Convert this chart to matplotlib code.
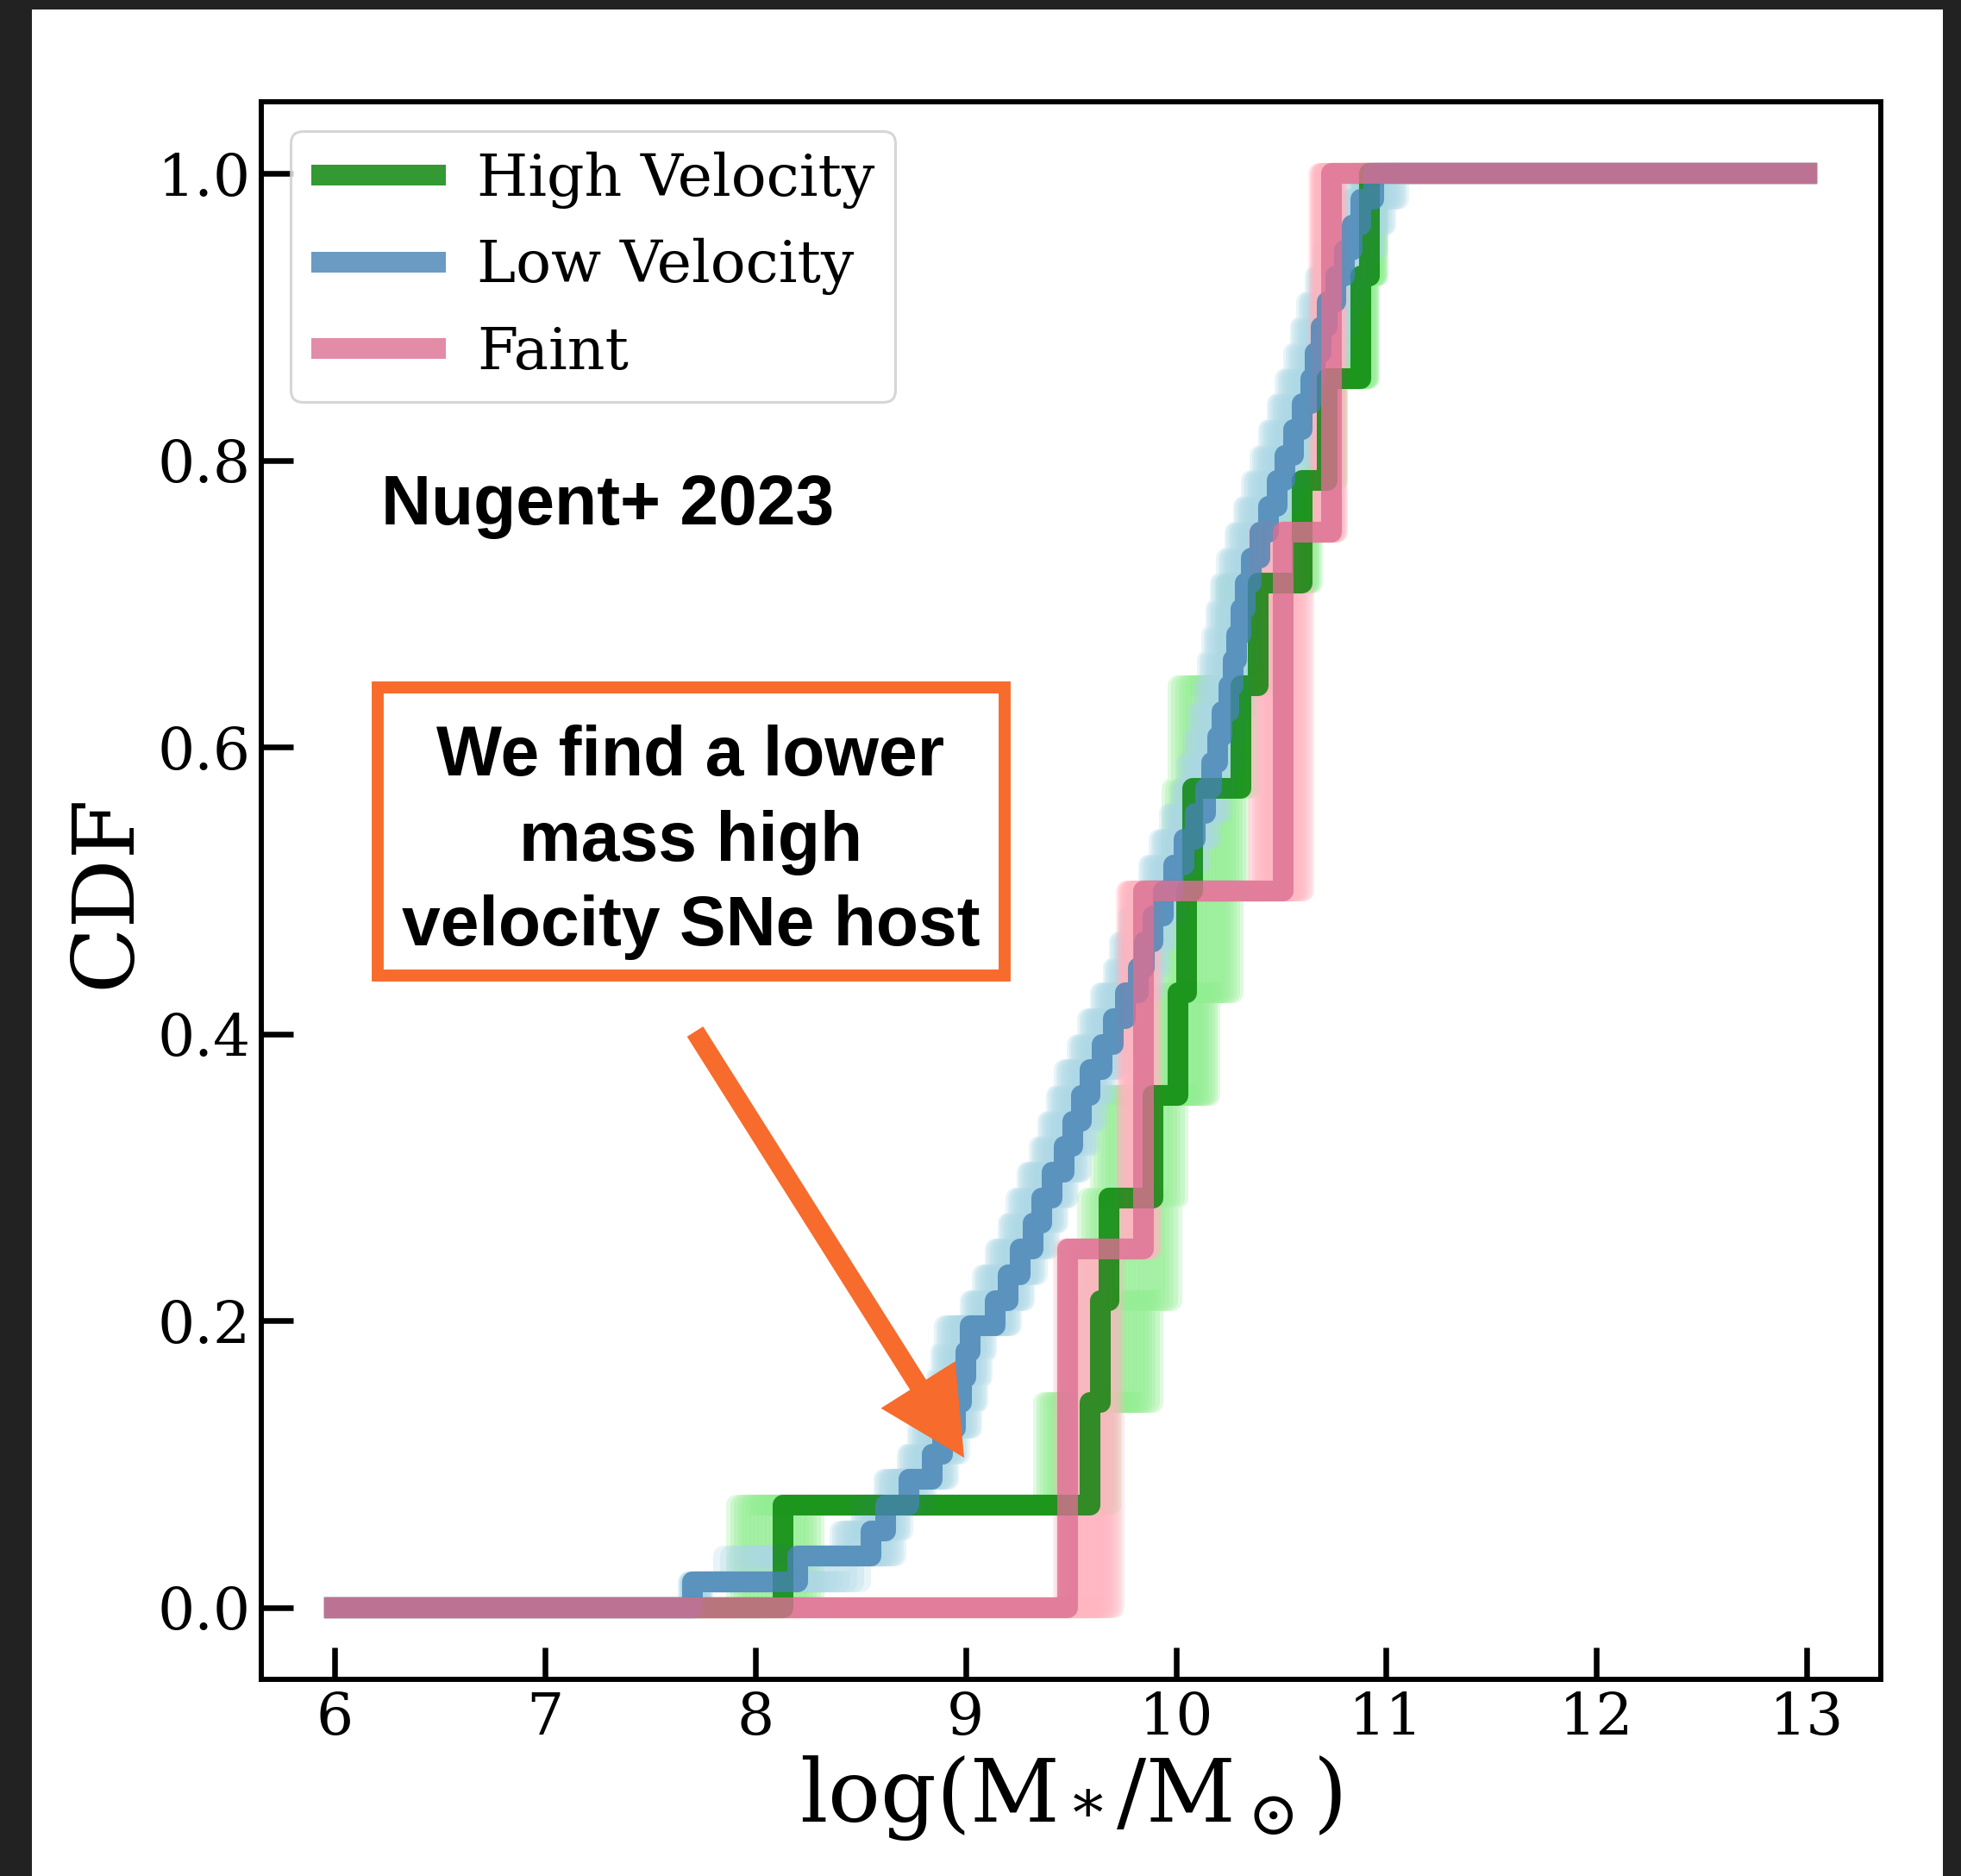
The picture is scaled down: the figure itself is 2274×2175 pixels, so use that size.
import numpy as np
import matplotlib
matplotlib.use('Agg')
from matplotlib import pyplot as plt
from matplotlib import transforms
from matplotlib.patches import Rectangle, FancyArrow

W, H, DPI = 2274, 2175, 100
X_START, X_END = 6.0, 13.0

# host stellar masses, log(M*/Msun), one entry per supernova
high_mass = [8.13, 9.59, 9.64, 9.68, 9.89, 10.01, 10.05, 10.08, 10.31, 10.39,
             10.60, 10.72, 10.88, 10.92]
high_lo = [-0.22, -0.22, -0.10, -0.10, -0.25, -0.10, -0.10, -0.10, -0.30, -0.15,
           -0.10, -0.08, -0.05, -0.04]
high_hi = [0.15, 0.10, 0.25, 0.30, 0.12, 0.15, 0.22, 0.22, 0.05, 0.08,
           0.05, 0.05, 0.04, 0.04]

low_mass = [7.70, 8.20, 8.55, 8.62, 8.73, 8.84, 8.89, 8.95, 8.98, 9.00,
            9.02, 9.14, 9.20, 9.26, 9.32, 9.36, 9.41, 9.47, 9.51, 9.55,
            9.59, 9.65, 9.70, 9.76, 9.82, 9.85, 9.89, 9.94, 9.99, 10.04,
            10.09, 10.14, 10.17, 10.20, 10.22, 10.25, 10.27, 10.29, 10.31, 10.33,
            10.36, 10.40, 10.44, 10.48, 10.52, 10.56, 10.60, 10.64, 10.66, 10.69,
            10.72, 10.76, 10.80, 10.84, 10.88, 10.94]
low_lo = [-0.02, -0.35, -0.15] + [-0.12] * 45 + [-0.10] * 8
low_hi = [0.05, 0.30, 0.12] + [0.08] * 45 + [0.12] * 8

faint_mass = [9.485, 9.845, 10.51, 10.74]
faint_lo = [-0.02, -0.08, -0.12, -0.06]
faint_hi = [0.22, 0.04, 0.10, 0.03]

samples = [
    ('High Velocity', high_mass, high_lo, high_hi, 'green', 'lightgreen'),
    ('Low Velocity', low_mass, low_lo, low_hi, 'steelblue', 'lightblue'),
    ('Faint', faint_mass, faint_lo, faint_hi, 'palevioletred', 'lightpink'),
]

ORANGE = '#F76B2C'
LW = 17.3  # points, ~24 px


def cdf_xy(masses):
    """Step coordinates of the empirical CDF, padded out to the plot range"""
    m = np.sort(np.asarray(masses, dtype=float))
    n = len(m)
    x = np.concatenate([[X_START], m, [X_END]])
    y = np.concatenate([[0.0], np.arange(1, n + 1) / n, [1.0]])
    return x, y


plt.rcParams['font.family'] = 'serif'
plt.rcParams['font.serif'] = ['DejaVu Serif']
plt.rcParams['mathtext.fontset'] = 'dejavuserif'

fig = plt.figure(figsize=(W / DPI, H / DPI), dpi=DPI, facecolor='#222222')
pix = transforms.Affine2D().scale(1.0 / DPI) + fig.dpi_scale_trans  # figure pixels, origin bottom left

# white page inside the dark frame
fig.add_artist(Rectangle((37, 0), 2216, 2164, transform=pix, facecolor='white',
                         edgecolor='none', zorder=-5))

ax = fig.add_axes([303 / W, 1 - 1947 / H, (2180.5 - 303) / W, (1947 - 118) / H])

# spread of each CDF from the mass uncertainties, drawn underneath everything
shifts = np.linspace(0, 1, 21)
for label, mass, lo, hi, color, light in samples:
    mass, lo, hi = np.array(mass), np.array(lo), np.array(hi)
    for t in shifts:
        xs, ys = cdf_xy(mass + lo + (hi - lo) * t)
        ax.step(xs, ys, where='post', color=light, lw=LW, alpha=0.28, zorder=1)

for label, mass, lo, hi, color, light in samples:
    x, y = cdf_xy(mass)
    ax.step(x, y, where='post', color=color, lw=LW, alpha=0.8, label=label, zorder=2)

ax.set_xlim(5.65, 13.35)
ax.set_ylim(-0.05, 1.05)
ax.set_xticks(range(6, 14))
ax.set_yticks([0.0, 0.2, 0.4, 0.6, 0.8, 1.0])
ax.tick_params(direction='in', length=26.5, width=4.7, labelsize=49, pad=9,
               top=False, right=False)
for sp in ax.spines.values():
    sp.set_linewidth(4.3)

ax.set_xlabel(r'$\rm log(M_*/M_\odot)$', fontsize=73, labelpad=6)
ax.set_ylabel('CDF', fontsize=72, labelpad=8)

leg = ax.legend(loc='upper left', fontsize=49, handlelength=2.3, handletextpad=0.52,
                labelspacing=0.5, borderpad=0.35, fancybox=True)
leg.get_frame().set_linewidth(2.2)
for h in leg.get_lines():
    h.set_solid_capstyle('butt')

fig.text(442, H - 608, 'Nugent+ 2023', transform=pix, family='Liberation Sans',
         weight='bold', fontsize=58, ha='left', va='baseline')

# call-out box with arrow
fig.add_artist(Rectangle((438, H - 1131), 727, 334, transform=pix, facecolor='white',
                         edgecolor=ORANGE, lw=10, joinstyle='miter', zorder=5))
for txt, base in [('We find a lower', 899), ('mass high', 998),
                  ('velocity SNe host', 1096)]:
    fig.text(801, H - base, txt, transform=pix, family='Liberation Sans',
             weight='bold', fontsize=58, ha='center', va='baseline', zorder=6)

fig.add_artist(FancyArrow(806, H - 1196, 1118 - 806, -(1690 - 1196), width=22,
                          head_width=102, head_length=100, length_includes_head=True,
                          transform=pix, color=ORANGE, lw=0, zorder=6))

fig.savefig('out.png', dpi=DPI)
